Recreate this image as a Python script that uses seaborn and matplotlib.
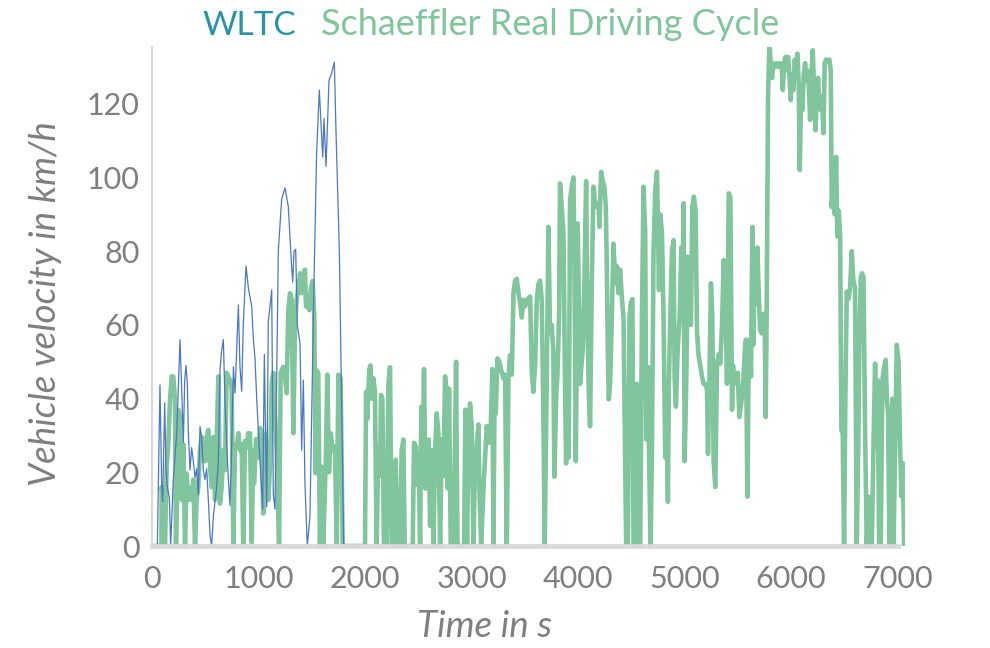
"""Vehicle velocity over time: WLTC vs Schaeffler real driving cycle."""

import matplotlib

matplotlib.use("Agg")

import matplotlib.pyplot as plt
import pandas as pd
import seaborn as sns

# WLTC (class 3) speed trace
wltc_time = [
    0, 50, 75, 91, 100, 119, 131, 144, 163, 175, 200, 232, 263, 282, 294, 307,
    319, 332, 341, 357, 372, 388, 404, 419, 435, 451, 466, 482, 498, 513, 529,
    545, 560, 576, 607, 623, 638, 654, 670, 685, 701, 717, 732, 748, 764, 779,
    795, 811, 826, 842, 857, 873, 883, 905, 936, 952, 967, 983, 1010, 1039,
    1055, 1077, 1092, 1108, 1124, 1139, 1155, 1186, 1217, 1249, 1280, 1311,
    1321, 1333, 1349, 1364, 1390, 1405, 1421, 1436, 1458, 1483, 1521, 1546,
    1571, 1603, 1615, 1634, 1662, 1687, 1712, 1728, 1759, 1790, 1800,
]
wltc_speed = [
    0, 0, 43.7, 16, 12, 38.8, 21.5, 16, 13, 0, 18, 30.6, 56, 39.6, 28, 45,
    49, 44, 31, 20.6, 26.7, 23, 18.6, 21, 14, 32.4, 29.6, 20.6, 18, 21, 12.5,
    3, 0, 8, 16, 23, 47.7, 53, 56, 39.6, 28, 18, 11, 26.7, 48.6, 41.5,
    53, 65.4, 48.6, 42, 60, 70, 76, 70, 65, 56, 51, 40, 25, 10,
    52, 10.6, 61, 65, 69.5, 14, 10, 80, 94, 97.2, 92, 75.7,
    71.6, 80, 80.5, 60, 55, 26, 45, 17, 0, 8, 72, 107,
    123.7, 105.5, 116, 103, 126.4, 128.3, 131.3, 112, 80, 20, 0,
]

# Schaeffler real driving cycle
rdc_time = [
    0, 88, 91, 106, 122, 138, 153, 169, 185, 200, 216, 225, 238, 250, 263, 279,
    294, 310, 325, 341, 357, 372, 388, 404, 419, 435, 451, 466, 482, 498, 513,
    529, 545, 560, 576, 592, 607, 623, 638, 654, 670, 685, 701, 717, 732, 748,
    764, 779, 795, 811, 826, 842, 857, 873, 889, 904, 920, 936, 951, 958, 977,
    998, 1014, 1030, 1045, 1061, 1077, 1092, 1108, 1124, 1139, 1155, 1171, 1193,
    1208, 1233, 1249, 1264, 1280, 1296, 1311, 1327, 1343, 1358, 1374, 1390,
    1405, 1421, 1436, 1446, 1458, 1477, 1492, 1508, 1524, 1536, 1546, 1561,
    1577, 1593, 1608, 1634, 1646, 1662, 1678, 1696, 1718, 1734, 1750, 1771,
    1790, 2000, 2010, 2021, 2040, 2052, 2065, 2078, 2093, 2109, 2125, 2141,
    2150, 2163, 2178, 2203, 2219, 2235, 2250, 2272, 2288, 2304, 2329, 2344,
    2360, 2373, 2448, 2460, 2479, 2492, 2504, 2517, 2529, 2542, 2554, 2567,
    2586, 2598, 2611, 2627, 2642, 2658, 2673, 2689, 2705, 2720, 2736, 2752,
    2767, 2777, 2789, 2805, 2824, 2839, 2855, 2868, 2930, 2943, 2958, 2971,
    2986, 3002, 3018, 3033, 3049, 3065, 3074, 3090, 3112, 3128, 3143, 3159,
    3181, 3196, 3206, 3215, 3228, 3243, 3262, 3278, 3300, 3315, 3331, 3347,
    3362, 3378, 3394, 3409, 3425, 3441, 3456, 3472, 3488, 3503, 3519, 3535,
    3550, 3566, 3581, 3597, 3613, 3628, 3644, 3659, 3675, 3687, 3706, 3722,
    3737, 3753, 3768, 3778, 3794, 3806, 3822, 3831, 3847, 3863, 3878, 3888,
    3900, 3913, 3925, 3941, 3957, 3966, 3979, 3988, 3997, 4010, 4019, 4029,
    4044, 4060, 4076, 4088, 4101, 4113, 4129, 4145, 4160, 4176, 4192, 4201,
    4217, 4233, 4248, 4261, 4270, 4280, 4289, 4301, 4317, 4333, 4349, 4364,
    4380, 4395, 4411, 4427, 4442, 4452, 4468, 4483, 4496, 4511, 4521, 4537,
    4553, 4568, 4584, 4600, 4615, 4631, 4640, 4656, 4666, 4681, 4694, 4709,
    4725, 4741, 4750, 4760, 4772, 4788, 4803, 4819, 4835, 4844, 4853, 4866,
    4882, 4897, 4907, 4919, 4935, 4954, 4970, 4982, 4991, 5001, 5016, 5032,
    5048, 5060, 5073, 5088, 5104, 5117, 5132, 5148, 5164, 5179, 5195, 5211,
    5220, 5233, 5248, 5261, 5273, 5289, 5305, 5320, 5336, 5352, 5368, 5383,
    5399, 5415, 5430, 5446, 5455, 5468, 5484, 5499, 5515, 5537, 5552, 5568,
    5577, 5590, 5603, 5615, 5624, 5637, 5646, 5659, 5671, 5684, 5696, 5709,
    5724, 5740, 5753, 5762, 5772, 5784, 5797, 5809, 5822, 5834, 5850, 5866,
    5881, 5897, 5913, 5922, 5935, 5947, 5960, 5972, 5985, 5997, 6010, 6022,
    6035, 6047, 6060, 6072, 6082, 6094, 6107, 6119, 6132, 6144, 6157, 6169,
    6179, 6191, 6204, 6216, 6229, 6241, 6254, 6266, 6279, 6291, 6304, 6316,
    6329, 6344, 6360, 6373, 6382, 6398, 6410, 6423, 6435, 6448, 6461, 6473,
    6485, 6498, 6510, 6523, 6538, 6554, 6570, 6585, 6601, 6617, 6633, 6642,
    6655, 6667, 6680, 6695, 6711, 6727, 6742, 6758, 6774, 6789, 6805, 6814,
    6827, 6842, 6858, 6874, 6889, 6899, 6911, 6924, 6936, 6952, 6962, 6977,
    6993, 7009, 7024, 7037, 7049, 7062,
]
rdc_speed = [
    0, 0, 16, 12.5, 0, 21.5, 27.6, 39.6, 46, 46, 39.6, 0, 16, 36.9, 35, 12.5,
    27.6, 0, 19.7, 12.5, 16, 12.5, 18, 0, 12.5, 16, 26, 29.6, 27.6, 23, 29.6,
    31.5, 21.5, 16, 29.6, 12.5, 27.6, 46, 11.5, 16, 26, 20.6, 47, 46, 45, 43,
    0, 27.6, 26.7, 30.6, 26, 27.6, 0, 28.5, 26.7, 30.6, 30.6, 1, 26, 17, 29,
    24, 32, 30.5, 8.8, 30.5, 27, 12.5, 21.5, 44, 47, 35, 26, 0,
    47, 48.6, 46, 41.5, 64, 68.6, 67, 30.6, 60, 66.7, 70, 74,
    68.6, 73, 75, 65, 66, 64, 70, 71.9, 62, 19.7, 47.7, 47,
    0, 21.5, 0, 26, 46.5, 20, 30.6, 26, 27, 0, 46.5, 45.5,
    0, 0, 41.8, 34.5, 48, 49, 40, 45.5, 42, 0, 27, 19,
    41, 40, 0, 0, 43.6, 48.5, 0, 0, 23.4, 0, 0, 26,
    28.9, 0, 0, 28, 27, 16.6, 25, 0, 37.8, 25, 48, 15.6,
    24, 28.9, 5.5, 26, 0, 26, 36, 30.6, 0, 28.9, 19, 46,
    41.8, 15.6, 42.7, 0, 0, 14.5, 50, 0, 0, 37, 0, 28,
    38.7, 32.5, 0, 23.4, 27, 33, 15.6, 0, 15.6, 24.5, 32.5, 28,
    33, 48, 0, 37.8, 36, 50.9, 50, 47.8, 45.5, 46.5, 0, 45.5,
    51.8, 46.5, 68.6, 72, 72.5, 68.6, 66, 62, 66.8, 65, 66.8, 67.2,
    67.7, 47, 41.8, 49, 66.8, 71, 72, 67, 35, 0, 44, 86.6,
    57.7, 60, 53, 18.8, 39.8, 46, 62, 98.4, 92, 85, 44, 22.4,
    44, 24, 93.8, 97.5, 100, 77, 23, 53, 87.5, 62, 44, 47.8,
    53, 71.3, 99, 62, 41.5, 32.5, 71.3, 97.5, 93, 92, 93, 86.6,
    101.5, 99, 97.5, 92, 76, 53, 39.8, 44, 62, 82, 71.3, 76,
    68.6, 75, 67.7, 62, 26, 0, 0, 62, 66, 67, 0, 0,
    44, 0, 0, 62, 97.5, 85, 28.9, 48.6, 26, 0, 26, 80,
    96.5, 101.5, 89, 69.5, 90, 85, 62, 24, 29.6, 12, 44, 62,
    80, 83, 46, 37.8, 53, 62, 81, 71.3, 93, 23, 44, 78.5,
    62, 60, 92, 94.8, 91, 58, 51.6, 49, 46, 44, 44, 42.5,
    25, 44, 71.3, 62, 23, 16, 49.5, 52, 49.5, 60, 77.6, 68.6,
    44, 95.7, 94.8, 37, 49, 44, 46, 47, 35, 40, 45, 54,
    56, 13.4, 54, 56, 46, 86.6, 54.6, 75.7, 65.7, 81, 69, 58.6,
    57.7, 63, 60, 35, 67, 122, 136.4, 131, 127, 131, 130, 131,
    130, 131, 130, 123.7, 131, 132.7, 129, 132.7, 128, 121, 128, 123.7,
    132, 128, 133.6, 125.5, 102, 122, 118.3, 128, 131, 126.4, 129, 123.7,
    115.6, 128, 134.5, 123.7, 112.8, 122, 127, 119, 118.3, 122, 112, 131,
    132, 131.5, 132, 129, 92, 102, 90, 105.6, 84, 91, 84, 31.5,
    30.6, 0, 40, 69, 67, 70, 80, 72, 70, 0, 31.5, 55,
    73, 74, 73, 31.5, 0, 13.4, 0, 0, 27, 49.5, 27, 45,
    0, 0, 45, 48.6, 50.5, 40, 36, 0, 0, 40, 0, 27,
    54.6, 50, 27, 13.4, 22.5, 0,
]

legend_labels = ["WLTC", "Schaeffler Real Driving Cycle"]
x_ticks = [0, 1000, 2000, 3000, 4000, 5000, 6000, 7000]
y_ticks = [0, 20, 40, 60, 80, 100, 120]

WLTC_LINE = "#4a78c2"
WLTC_TEXT = "#2a92a5"
RDC_GREEN = "#80c59b"
GREY = "#7f7f7f"

sns.set_theme(style="white")
plt.rcParams["font.family"] = ["Lato", "DejaVu Sans"]

wltc = pd.DataFrame({"t": wltc_time, "v": wltc_speed})
rdc = pd.DataFrame({"t": rdc_time, "v": rdc_speed})

fig = plt.figure(figsize=(9.9, 6.48), dpi=100)
ax = fig.add_axes([152 / 990, 1 - 546 / 648, (905 - 152) / 990, (546 - 47) / 648])

sns.lineplot(data=rdc, x="t", y="v", ax=ax, color=RDC_GREEN, lw=3.3,
             estimator=None, sort=False)
sns.lineplot(data=wltc, x="t", y="v", ax=ax, color=WLTC_LINE, lw=0.9,
             estimator=None, sort=False)

ax.set_xlim(0, 7070)
ax.set_ylim(0, 135.4)
ax.set_xticks(x_ticks)
ax.set_yticks(y_ticks)
ax.tick_params(axis="both", length=0, labelsize=22, labelcolor=GREY)
ax.tick_params(axis="x", pad=14)
ax.tick_params(axis="y", pad=9)

for side in ("top", "right"):
    ax.spines[side].set_visible(False)
ax.spines["left"].set_color("#d9d9d9")
ax.spines["left"].set_linewidth(1.6)
# thick grey baseline drawn over the traces hides the standstill segments
ax.spines["bottom"].set_color("#d9d9d9")
ax.spines["bottom"].set_linewidth(3.4)
ax.spines["bottom"].set_zorder(5)
ax.spines["bottom"].set_bounds(0, 7000)

ax.set_xlabel("Time in s", fontsize=26.5, style="italic", color=GREY)
ax.set_ylabel("Vehicle velocity in km/h", fontsize=26.5, style="italic",
              color=GREY, va="center")
ax.xaxis.set_label_coords(0.442, -0.128)
ax.yaxis.set_label_coords(-0.142, 0.485)

# text-only legend above the plot
fig.text(202 / 990, 1 - 35 / 648, legend_labels[0], color=WLTC_TEXT,
         fontsize=24, va="baseline")
fig.text(321 / 990, 1 - 35 / 648, legend_labels[1], color=RDC_GREEN,
         fontsize=26, va="baseline")

fig.savefig("out.png", dpi=100)
plt.close(fig)
